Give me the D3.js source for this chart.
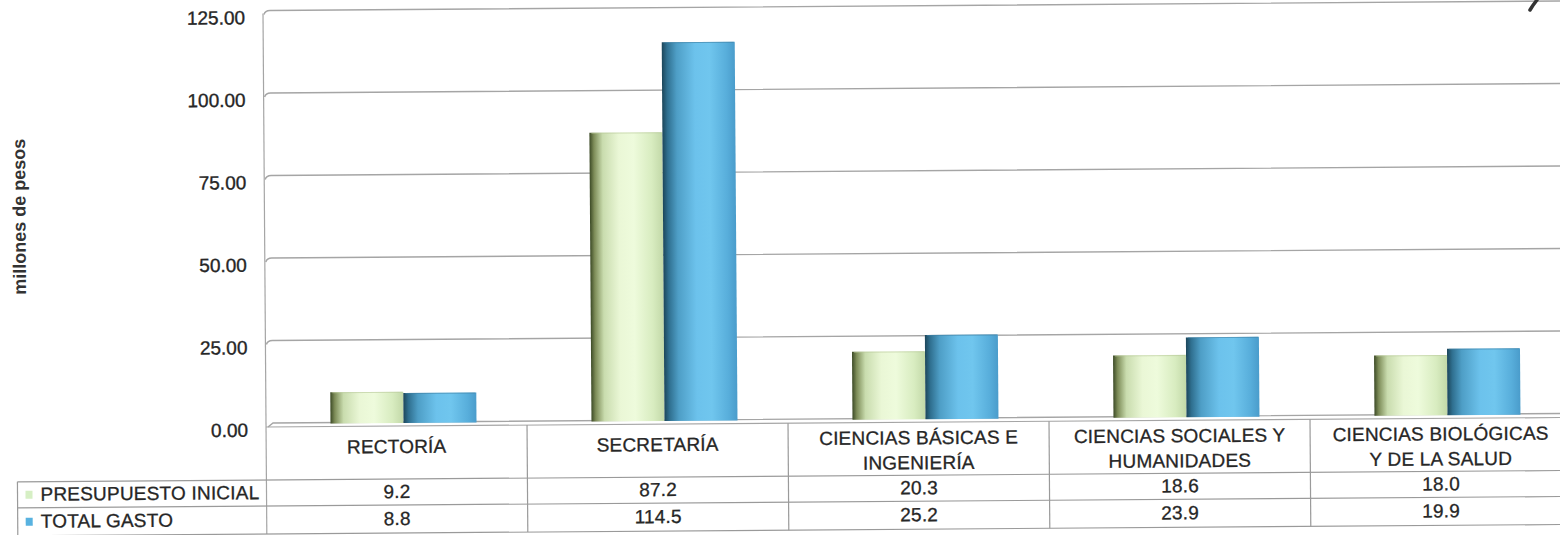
<!DOCTYPE html>
<html>
<head>
<meta charset="utf-8">
<script src="https://cdn.jsdelivr.net/npm/d3@7"></script>
<style>
html,body{margin:0;padding:0;background:#fff;}
svg{display:block;font-family:"Liberation Sans",Arial,sans-serif;}
</style>
</head>
<body>
<script>
const categories = [
  ["RECTORÍA"],
  ["SECRETARÍA"],
  ["CIENCIAS BÁSICAS E", "INGENIERÍA"],
  ["CIENCIAS SOCIALES Y", "HUMANIDADES"],
  ["CIENCIAS BIOLÓGICAS", "Y DE LA SALUD"]
];
const seriesNames = ["PRESUPUESTO INICIAL", "TOTAL GASTO"];
const presupuesto = [9.2, 87.2, 20.3, 18.6, 18.0];
const gasto = [8.8, 114.5, 25.2, 23.9, 19.9];
const yTicks = [0, 25, 50, 75, 100, 125];
const yTitle = "millones de pesos";

const W = 1560, H = 535;
const svg = d3.select("body").append("svg").attr("width", W).attr("height", H);
const defs = svg.append("defs");

function grad(id, stops) {
  const g = defs.append("linearGradient").attr("id", id).attr("x1", "0%").attr("x2", "100%").attr("y1", "0%").attr("y2", "0%");
  stops.forEach(s => g.append("stop").attr("offset", s[0]).attr("stop-color", s[1]));
}
grad("gGreen", [["0%", "#3c4a26"], ["6%", "#7d8c58"], ["18%", "#c9dcae"], ["40%", "#eaf7d6"], ["60%", "#eefbdc"], ["85%", "#d8ecc0"], ["100%", "#c2d8a8"]]);
grad("gBlue", [["0%", "#1c465a"], ["7%", "#2f6f8f"], ["20%", "#4e9ec6"], ["45%", "#6cc2ec"], ["65%", "#70c6ee"], ["88%", "#58aedb"], ["100%", "#4a9ccb"]]);

const colors = ["url(#gGreen)", "url(#gBlue)"];
const legendColors = ["#d6efc4", "#58b2e0"];
const txtC = "#262626";

const left = 266, right = 1571, y0 = 423, yTop = 10.5;
const tableTop = 427, row1 = 480, row2 = 506, tableBottom = 534, legendLeft = 17;

const root = svg.append("g").attr("transform", `rotate(-0.42, ${left}, ${y0})`);

const x = d3.scaleBand().domain(d3.range(categories.length)).range([left, right]).paddingInner(0).paddingOuter(0);
const y = d3.scaleLinear().domain([0, 125]).range([y0, yTop]);
const xs = d3.scaleBand().domain([0, 1]).range([0, 146]);

// gridlines
const grid = root.append("g");
yTicks.forEach(t => {
  const yy = y(t);
  if (t === 0) {
    grid.append("path").attr("d", `M${left + 2},${yy + 4} L${left + 7},${yy} L${right + 10},${yy}`)
      .attr("fill", "none").attr("stroke", "#a5a5a5").attr("stroke-width", 1.4);
  } else {
    grid.append("path").attr("d", `M${left + 1},${yy + 4} Q${left + 2},${yy} ${left + 7},${yy} L${right + 10},${yy}`)
      .attr("fill", "none").attr("stroke", "#a5a5a5").attr("stroke-width", 1.4);
  }
});
// wall
root.append("line").attr("x1", left).attr("x2", left).attr("y1", y(125) + 3).attr("y2", tableBottom)
  .attr("stroke", "#a5a5a5").attr("stroke-width", 1.2);

// axis labels
const yAxis = d3.axisLeft(y).tickValues(yTicks).tickFormat(d3.format(".2f")).tickSize(0).tickPadding(0);
const ag = root.append("g").attr("transform", `translate(248,7)`).call(yAxis);
ag.select(".domain").remove();
ag.selectAll("text").attr("font-size", 19).attr("fill", txtC).attr("font-family", "'Liberation Sans',Arial,sans-serif")
  .attr("stroke", txtC).attr("stroke-width", 0.35);

root.append("text").attr("transform", `translate(27,215) rotate(-90)`).attr("text-anchor", "middle")
  .attr("font-size", 18).attr("font-weight", "bold").attr("fill", "#333").text(yTitle);

// bars
const series = [presupuesto, gasto];
const bars = root.append("g");
categories.forEach((c, i) => {
  const cx = x(i) + x.bandwidth() / 2 + 7 - 73;
  series.forEach((s, k) => {
    const v = s[i];
    const bx = cx + xs(k);
    bars.append("rect").attr("x", bx).attr("y", y(v)).attr("width", xs.bandwidth()).attr("height", y0 - y(v) + 1)
      .attr("fill", colors[k]);
    bars.append("line").attr("x1", bx + 2).attr("x2", bx + xs.bandwidth() - 1).attr("y1", y(v) + 0.5).attr("y2", y(v) + 0.5)
      .attr("stroke", k === 0 ? "#b8c89a" : "#3f7fa2").attr("stroke-opacity", 0.6).attr("stroke-width", 1);
  });
});

// floor front edge
root.append("line").attr("x1", left).attr("x2", right + 10).attr("y1", tableTop).attr("y2", tableTop)
  .attr("stroke", "#a5a5a5").attr("stroke-width", 1.2);

// table
const tg = root.append("g");
const lineC = "#9a9a9a";
[row1, row2, tableBottom].forEach(yy => {
  tg.append("line").attr("x1", legendLeft).attr("x2", right + 10).attr("y1", yy).attr("y2", yy).attr("stroke", lineC).attr("stroke-width", 1.2);
});
tg.append("line").attr("x1", legendLeft).attr("x2", legendLeft).attr("y1", row1).attr("y2", tableBottom).attr("stroke", lineC).attr("stroke-width", 1.2);
categories.forEach((c, i) => {
  if (i > 0) tg.append("line").attr("x1", x(i)).attr("x2", x(i)).attr("y1", tableTop).attr("y2", tableBottom).attr("stroke", lineC).attr("stroke-width", 1.2);
});
tg.append("line").attr("x1", right).attr("x2", right).attr("y1", tableTop).attr("y2", tableBottom).attr("stroke", lineC).attr("stroke-width", 1.2);

const fs = 19;
function styleText(sel) {
  return sel.attr("font-size", fs).attr("fill", txtC).attr("stroke", txtC).attr("stroke-width", 0.3).attr("letter-spacing", "0.2px");
}
categories.forEach((c, i) => {
  const cxm = x(i) + x.bandwidth() / 2;
  const ys = c.length === 1 ? [454] : [449, 474];
  c.forEach((t, j) => {
    styleText(tg.append("text").attr("x", cxm).attr("y", ys[j]).attr("text-anchor", "middle")).text(t);
  });
  series.forEach((s, k) => {
    styleText(tg.append("text").attr("x", cxm).attr("y", (k === 0 ? 499 : 526)).attr("text-anchor", "middle"))
      .text(s[i].toFixed(1));
  });
});
seriesNames.forEach((n, k) => {
  const base = (k === 0 ? 499 : 526);
  tg.append("rect").attr("x", 25).attr("y", base - 10).attr("width", 7).attr("height", 8).attr("fill", legendColors[k]);
  styleText(tg.append("text").attr("x", 40).attr("y", base)).text(n);
});

// handwritten mark at top right of the scan
svg.append("path").attr("d", "M1530,10 Q1533,5 1537,0").attr("fill", "none").attr("stroke", "#333")
  .attr("stroke-width", 3.5).attr("stroke-linecap", "round");
</script>
</body>
</html>
